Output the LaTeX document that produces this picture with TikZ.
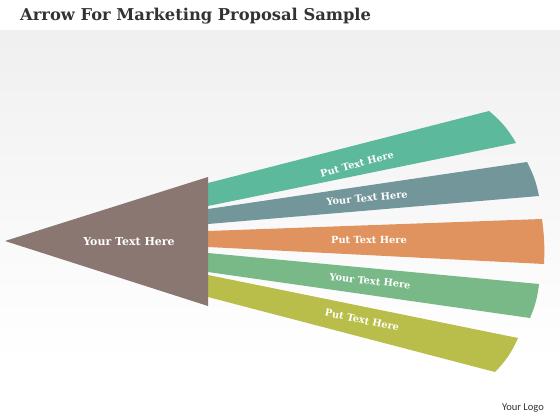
\documentclass[tikz,border=0pt]{standalone}
\usepackage{fontspec}
\setmainfont{DejaVu Serif}
\newfontfamily\logofont{Carlito}
\usepackage{tikz}
\usetikzlibrary{arrows}
\definecolor{ttbbqq}{rgb}{0.365,0.725,0.608}
\definecolor{wwqqqq}{rgb}{0.451,0.588,0.604}
\definecolor{eeqqtt}{rgb}{0.878,0.576,0.373}
\definecolor{wwbbqq}{rgb}{0.475,0.725,0.529}
\definecolor{bbbbtt}{rgb}{0.725,0.741,0.290}
\definecolor{qqwwww}{rgb}{0.541,0.467,0.443}
\definecolor{zzzzzz}{rgb}{0.2,0.2,0.2}

\begin{document}
\begin{tikzpicture}[line cap=round,line join=round,x=1pt,y=-1pt,
  lbl/.style={text=white,font=\bfseries\fontsize{9.8}{11}\selectfont,inner sep=0pt}]
\useasboundingbox (0,0) rectangle (560,420);
\fill [white] (0,0) rectangle (560,420);
\shade [top color=black!6,bottom color=white] (0,31) rectangle (560,360);
\node [anchor=west,text=zzzzzz,font=\bfseries\fontsize{16.3}{19}\selectfont,inner sep=0pt] (title) at (20,16) {Arrow For Marketing Proposal Sample};
% bands
\fill [color=ttbbqq] (208,183) -- (489,111) to[bend left=10] (516,143) -- (208,206) -- cycle;
\fill [color=wwqqqq] (208,209) -- (527,162) to[bend left=8] (539,196) -- (208,224) -- cycle;
\fill [color=eeqqtt] (208,231) -- (542,219) to[bend left=5] (544,264) -- (208,247) -- cycle;
\fill [color=wwbbqq] (208,253) -- (539,284) to[bend left=8] (530,318) -- (208,272) -- cycle;
\fill [color=bbbbtt] (208,275) -- (518,338) to[bend left=10] (495,372) -- (208,297) -- cycle;
% arrow head
\fill [color=qqwwww] (5,241) -- (208,177) -- (208,306) -- cycle;
\node [lbl,font=\bfseries\fontsize{11}{13}\selectfont] (head) at (129,242) {Your Text Here};
\node [lbl,rotate=15] (b1) at (357,164) {Put Text Here};
\node [lbl,rotate=5.5] (b2) at (367,198) {Your Text Here};
\node [lbl] (b3) at (369,240) {Put Text Here};
\node [lbl,rotate=-6] (b4) at (370,281) {Your Text Here};
\node [lbl,rotate=-12] (b5) at (362,320) {Put Text Here};
\node [anchor=east,text=zzzzzz,font=\logofont\fontsize{10.5}{12}\selectfont,inner sep=0pt] (logo) at (544,408) {Your Logo};
\end{tikzpicture}
\end{document}
